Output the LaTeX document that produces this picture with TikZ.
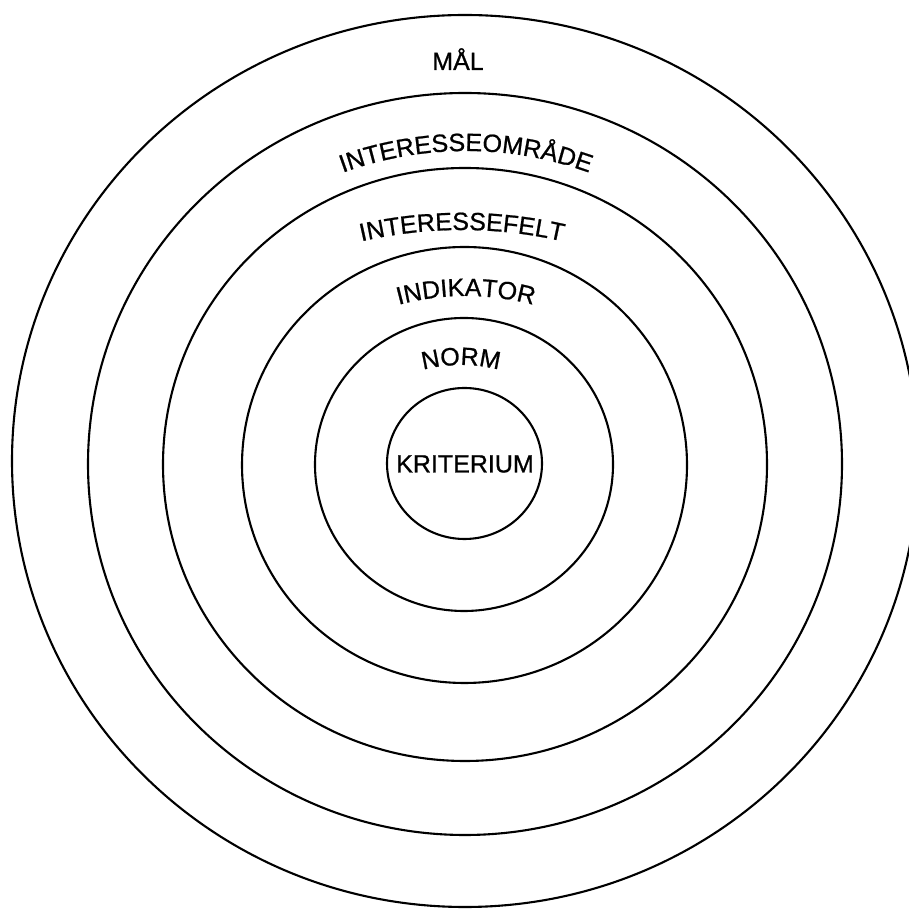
\documentclass[tikz,border=0pt]{standalone}
\usepackage{fontspec}
\setmainfont{Liberation Sans}
\newfontfamily\lettering[FakeBold=0.8]{Liberation Sans}
\usetikzlibrary{decorations.text}
\newcommand\lbl{\lettering\fontsize{25}{30}\selectfont}
\tikzset{
  ring/.style={line width=2.1pt, draw=black},
  arclabel/.style={decorate, decoration={text along path, text align=center, text={|\lbl|#1}}},
  flatlabel/.style={font=\lbl, inner sep=0pt}
}
% arc label: #1 = x of top, #2 = pixel y of baseline top, #3 = arc radius, #4 = text
\newcommand\arctext[4]{%
  \path[arclabel={#4}] (#1,910-#2-#3) ++(145:#3) arc[start angle=145, end angle=35, radius=#3];}
\begin{document}
\begin{tikzpicture}[x=1pt,y=1pt]
\useasboundingbox (0,0) rectangle (909,910);
\fill[white] (0,0) rectangle (909,910);
\clip (0,0) rectangle (909,910);
% rings
\draw[ring] (465,449) ellipse[x radius=453, y radius=446];
\draw[ring] (465,446) ellipse[x radius=377, y radius=371];
\draw[ring] (465,445.5) ellipse[x radius=302, y radius=296.5];
\draw[ring] (464.5,445) ellipse[x radius=222.5, y radius=218];
\draw[ring] (464,445.5) ellipse[x radius=149, y radius=146.5];
\draw[ring] (464.5,446.5) ellipse[x radius=77.5, y radius=75.5];
% labels
\node[flatlabel, anchor=base] (mal) at (458,840) {MÅL};
\arctext{466}{151}{360}{INTERESSEOMRÅDE}
\arctext{462}{230}{450}{INTERESSEFELT}
\arctext{466}{296}{260}{INDIKATOR}
\arctext{461}{365}{150}{NORM}
\node[flatlabel] (krit) at (465,446) {KRITERIUM};
\end{tikzpicture}
\end{document}
